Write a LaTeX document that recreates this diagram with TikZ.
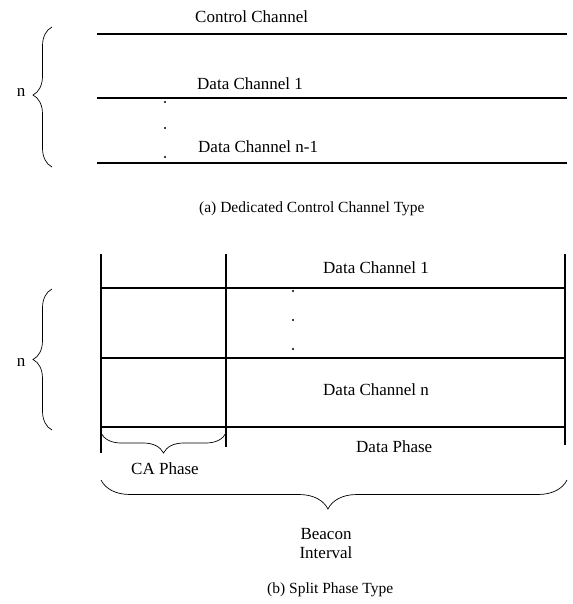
\documentclass[tikz,border=0pt]{standalone}
\usepackage{fontspec}
\setmainfont{Liberation Serif}
\usetikzlibrary{decorations.pathreplacing}
\begin{document}
\begin{tikzpicture}[x=1pt,y=-1pt,
  chan/.style={line width=1.1pt},
  gridln/.style={line width=1.1pt},
  brc/.style={line width=0.7pt, decorate, decoration={brace, amplitude=#1}},
  lbl/.style={anchor=base west, inner sep=0pt, font=\fontsize{17}{20}\selectfont},
  captxt/.style={anchor=base west, inner sep=0pt, font=\fontsize{15.5}{19}\selectfont},
  dotm/.style={circle, fill=black, inner sep=0pt, minimum size=2.2pt}]
\useasboundingbox (0,0) rectangle (572,604);
% ---- (a) Dedicated control channel ----
\coordinate (a1l) at (97,34);  \coordinate (a1r) at (567,34);
\coordinate (a2l) at (97,98);  \coordinate (a2r) at (567,98);
\coordinate (a3l) at (97,163); \coordinate (a3r) at (567,163);
\draw[chan] (a1l) -- (a1r);
\draw[chan] (a2l) -- (a2r);
\draw[chan] (a3l) -- (a3r);
\node[lbl] (cc) at (195,23) {Control Channel};
\node[lbl] (dc1) at (197,90) {Data Channel 1};
\node[lbl] (dcn1) at (198,153) {Data Channel n-1};
\node[dotm] (ad1) at (165,102) {};
\node[dotm] (ad2) at (165,128) {};
\node[dotm] (ad3) at (165,157) {};
\coordinate (abb) at (52,167); \coordinate (abt) at (52,27);
\draw[brc=19pt, decoration={aspect=0.514}] (abb) -- (abt);
\node[lbl, anchor=base] (an) at (21,97) {n};
\node[captxt] (capa) at (199,212) {(a) Dedicated Control Channel Type};
% ---- (b) Split phase ----
\coordinate (v1t) at (101,254); \coordinate (v1b) at (101,453);
\coordinate (v2t) at (226,254); \coordinate (v2b) at (226,447);
\coordinate (v3t) at (565,254); \coordinate (v3b) at (565,445);
\draw[gridln] (v1t) -- (v1b);
\draw[gridln] (v2t) -- (v2b);
\draw[gridln] (v3t) -- (v3b);
\coordinate (h1l) at (101,288); \coordinate (h1r) at (565,288);
\coordinate (h2l) at (101,358); \coordinate (h2r) at (565,358);
\coordinate (h3l) at (101,427); \coordinate (h3r) at (565,427);
\draw[gridln] (h1l) -- (h1r);
\draw[gridln] (h2l) -- (h2r);
\draw[gridln] (h3l) -- (h3r);
\node[lbl] (bdc1) at (323,273) {Data Channel 1};
\node[lbl] (bdcn) at (323,395) {Data Channel n};
\node[dotm] (bd1) at (293,291) {};
\node[dotm] (bd2) at (293,320) {};
\node[dotm] (bd3) at (293,349) {};
\coordinate (bbb) at (52,430); \coordinate (bbt) at (52,289);
\draw[brc=19pt, decoration={aspect=0.5}] (bbb) -- (bbt);
\node[lbl, anchor=base] (bn) at (21,366) {n};
\coordinate (car) at (226,433); \coordinate (cal) at (101,433);
\draw[brc=20pt] (car) -- (cal);
\node[lbl] (capl) at (131,474) {CA Phase};
\node[lbl] (dp) at (356,452) {Data Phase};
\coordinate (bir) at (567,480); \coordinate (bil) at (101,480);
\draw[brc=29pt, decoration={aspect=0.513}] (bir) -- (bil);
\node[lbl, anchor=base] (beacon) at (326,539) {Beacon};
\node[lbl, anchor=base] (interval) at (326,558) {Interval};
\node[captxt] (capb) at (267,593) {(b) Split Phase Type};
\end{tikzpicture}
\end{document}
